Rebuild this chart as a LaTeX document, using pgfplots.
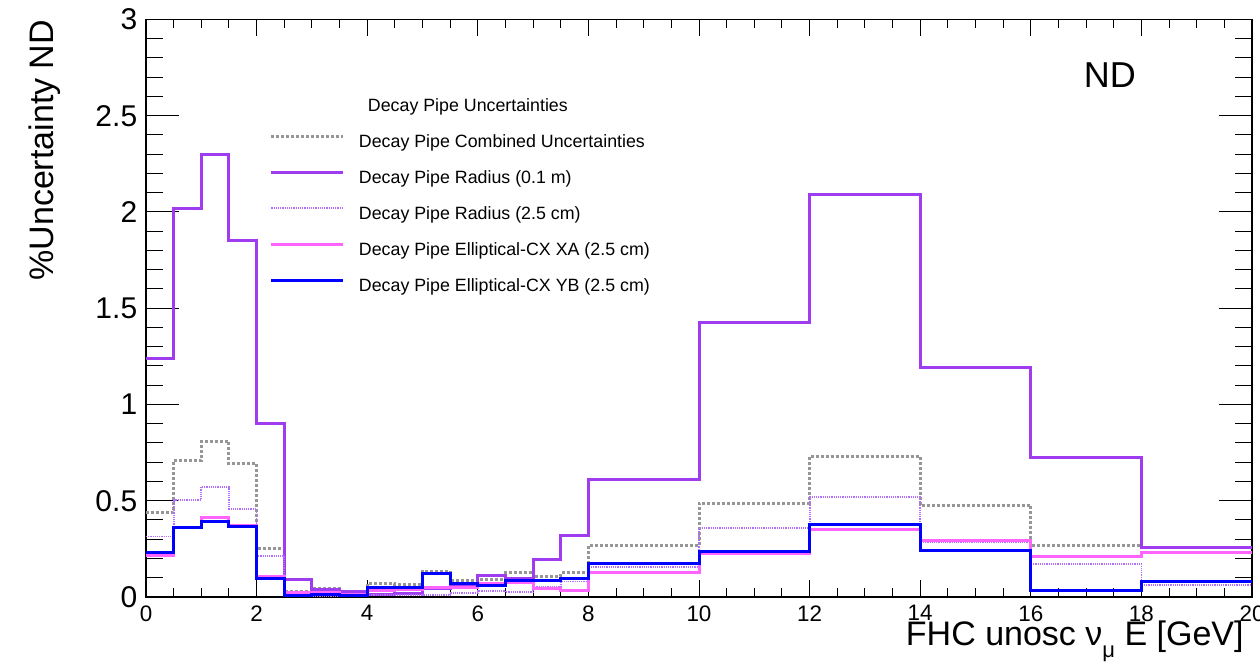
\documentclass[border=0pt]{standalone}
\usepackage{fontspec}
\setmainfont{Liberation Sans}
\usepackage{pgfplots}
\pgfplotsset{compat=1.18}
\definecolor{cgray}{RGB}{150,150,150}
\definecolor{cpurple}{RGB}{160,60,240}
\definecolor{cpurplel}{RGB}{180,110,255}
\definecolor{cpink}{RGB}{255,100,255}
\definecolor{cblue}{RGB}{0,0,255}
\begin{document}
\begin{tikzpicture}
\begin{axis}[
  scale only axis, width=553pt, height=288.75pt,
  xmin=0, xmax=20, ymin=0, ymax=3,
  xtick={0,2,4,6,8,10,12,14,16,18,20},
  ytick={0,0.5,1,1.5,2,2.5,3},
  minor x tick num=3, minor y tick num=4,
  tick align=inside, tick pos=both,
  axis line style={line width=0.6pt},
  xtick style={line width=0.5pt,black,/pgfplots/major tick length=8.5pt,/pgfplots/minor tick length=4.5pt},
  ytick style={line width=0.5pt,black,/pgfplots/major tick length=16.5pt,/pgfplots/minor tick length=8.5pt},
  /pgf/number format/assume math mode=true,
  xticklabel style={font=\fontsize{11.2pt}{13pt}\selectfont, inner sep=0pt, yshift=-4pt},
  yticklabel style={font=\fontsize{15pt}{18pt}\selectfont, inner sep=0pt, xshift=-4.2pt},
  xlabel={FHC unosc ν\raisebox{-6pt}{\fontsize{11pt}{12pt}\selectfont μ} E [GeV]},
  xlabel style={at={(axis description cs:0.9928,-0.084)}, anchor=base east, inner sep=0pt, font=\fontsize{17pt}{20pt}\selectfont},
  ylabel={\%Uncertainty ND},
  ylabel style={at={(axis description cs:-0.106,1)}, anchor=north east, inner sep=0pt, font=\fontsize{17pt}{20pt}\selectfont},
  legend style={draw=none, fill=none, at={(axis description cs:0.1121,0.8636)}, anchor=north west,
    inner sep=0pt, outer sep=0pt, row sep=9.5pt, column sep=7pt,
    nodes={inner sep=0pt, text height=6.5pt, text depth=2pt, font=\fontsize{8.9pt}{10pt}\selectfont}},
  legend cell align=left,
  legend image code/.code={\draw[#1] (0pt,3.2pt) -- (36pt,3.2pt);},
]
\addlegendimage{empty legend}
\addlegendentry{\hspace{4.5pt}Decay Pipe Uncertainties}

\addplot[const plot, cgray, line width=1.5pt, dash pattern=on 1.5pt off 1pt] coordinates {
(0,0.44)(0.5,0.711)(1,0.81)(1.5,0.693)(2,0.253)(2.5,0.031)(3,0.042)(3.5,0.02)
(4,0.069)(4.5,0.066)(5,0.135)(5.5,0.087)(6,0.093)(6.5,0.125)(7,0.108)(7.5,0.128)
(8,0.265)(10,0.487)(12,0.73)(14,0.475)(16,0.27)(18,0.256)(20,0.256)};
\addlegendentry{Decay Pipe Combined Uncertainties}

\addplot[const plot, cpurple, line width=1.5pt] coordinates {
(0,1.24)(0.5,2.016)(1,2.30)(1.5,1.85)(2,0.90)(2.5,0.09)(3,0.04)(3.5,0.028)
(4,0.015)(4.5,0.02)(5,0.045)(5.5,0.06)(6,0.113)(6.5,0.097)(7,0.196)(7.5,0.317)
(8,0.608)(10,1.425)(12,2.09)(14,1.19)(16,0.724)(18,0.256)(20,0.256)};
\addlegendentry{Decay Pipe Radius (0.1 m)}

\addplot[const plot, cpurplel, line width=0.9pt, dash pattern=on 0.6pt off 0.5pt] coordinates {
(0,0.314)(0.5,0.504)(1,0.572)(1.5,0.458)(2,0.213)(2.5,0.02)(3,0.005)(3.5,0.008)
(4,0.01)(4.5,0.012)(5,0.012)(5.5,0.022)(6,0.032)(6.5,0.024)(7,0.05)(7.5,0.08)
(8,0.155)(10,0.357)(12,0.518)(14,0.285)(16,0.172)(18,0.062)(20,0.062)};
\addlegendentry{Decay Pipe Radius (2.5 cm)}

\addplot[const plot, cpink, line width=1.5pt] coordinates {
(0,0.213)(0.5,0.36)(1,0.414)(1.5,0.37)(2,0.104)(2.5,0.022)(3,0.025)(3.5,0.015)
(4,0.036)(4.5,0.04)(5,0.05)(5.5,0.05)(6,0.072)(6.5,0.075)(7,0.045)(7.5,0.036)
(8,0.125)(10,0.227)(12,0.352)(14,0.291)(16,0.21)(18,0.232)(20,0.232)};
\addlegendentry{Decay Pipe Elliptical-CX XA (2.5 cm)}

\addplot[const plot, cblue, line width=1.5pt] coordinates {
(0,0.23)(0.5,0.359)(1,0.394)(1.5,0.366)(2,0.094)(2.5,0.01)(3,0.013)(3.5,0.01)
(4,0.048)(4.5,0.048)(5,0.12)(5.5,0.068)(6,0.059)(6.5,0.085)(7,0.088)(7.5,0.094)
(8,0.176)(10,0.236)(12,0.378)(14,0.244)(16,0.036)(18,0.08)(20,0.08)};
\addlegendentry{Decay Pipe Elliptical-CX YB (2.5 cm)}

\node[font=\fontsize{18pt}{20pt}\selectfont] at (axis description cs:0.8716,0.9039) {ND};
\coordinate (bl) at (rel axis cs:0,0);
\end{axis}
\pgfresetboundingbox
\useasboundingbox (bl) ++(-73pt,-33pt) rectangle ++(630pt,331.5pt);
\end{tikzpicture}
\end{document}
